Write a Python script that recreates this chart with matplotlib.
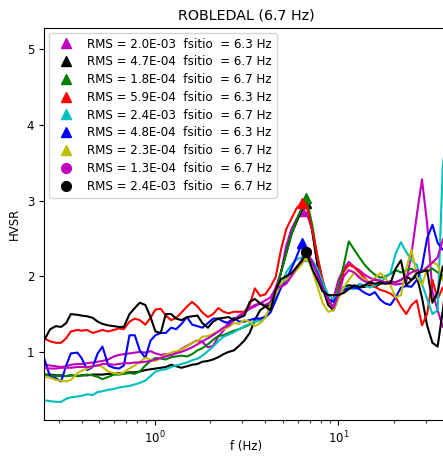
"""HVSR curves for ROBLEDAL station (several windows, peak markers)."""

import matplotlib
matplotlib.use("Agg")
import matplotlib.pyplot as plt

freq = [0.25, 0.27, 0.29, 0.31, 0.33, 0.35, 0.38, 0.40, 0.43, 0.46,
        0.49, 0.52, 0.56, 0.60, 0.64, 0.68, 0.73, 0.78, 0.83, 0.89,
        0.95, 1.01, 1.08, 1.15, 1.23, 1.31, 1.40, 1.50, 1.60, 1.71,
        1.82, 1.95, 2.08, 2.22, 2.37, 2.53, 2.70, 2.88, 3.08, 3.29,
        3.51, 3.75, 4.00, 4.27, 4.56, 4.87, 5.20, 5.55, 5.93, 6.33,
        6.70, 7.2, 7.7, 8.2, 8.8, 9.4, 10.0, 10.7, 11.4, 12.2,
        13.0, 13.9, 14.8, 15.8, 16.9, 18.0, 19.2, 20.5, 21.9, 23.4,
        25.0, 26.7, 28.5, 30.4, 32.5, 34.7, 37.0, 39.5]

hv_m1 = [0.83, 0.82, 0.81, 0.80, 0.81, 0.83, 0.84, 0.84, 0.85, 0.86,
         0.87, 0.88, 0.90, 0.94, 0.96, 0.97, 0.98, 0.99, 1.00, 0.99,
         1.01, 0.98, 0.96, 0.97, 0.96, 0.99, 1.04, 1.08, 1.12, 1.15,
         1.13, 1.06, 1.08, 1.20, 1.28, 1.40, 1.44, 1.46, 1.52, 1.58,
         1.62, 1.64, 1.62, 1.66, 1.85, 2.05, 2.40, 2.62, 2.76, 2.86,
         2.84, 2.62, 2.14, 1.84, 1.66, 1.70, 1.95, 2.10, 2.19, 2.12,
         2.08, 2.02, 1.98, 1.95, 1.94, 1.92, 1.90, 1.89, 1.90, 1.92,
         2.30, 2.80, 3.28, 2.70, 1.80, 1.55, 1.33, 1.40]

hv_k1 = [0.70, 0.70, 0.69, 0.69, 0.68, 0.69, 0.68, 0.69, 0.69, 0.70,
         0.70, 0.70, 0.71, 0.71, 0.72, 0.72, 0.73, 0.73, 0.74, 0.76,
         0.77, 0.78, 0.79, 0.80, 0.83, 0.81, 0.79, 0.81, 0.83, 0.84,
         0.87, 0.88, 0.90, 0.93, 0.97, 1.00, 1.02, 1.08, 1.15, 1.25,
         1.42, 1.55, 1.60, 1.62, 1.78, 2.05, 2.30, 2.55, 2.72, 2.88,
         2.97, 2.60, 2.15, 1.85, 1.62, 1.55, 1.72, 1.86, 1.88, 1.87,
         1.85, 1.86, 1.88, 1.86, 1.90, 1.91, 1.93, 1.92, 1.95, 2.00,
         1.95, 2.00, 1.72, 1.35, 1.12, 1.07, 1.55, 2.10]

hv_g = [0.70, 0.69, 0.68, 0.68, 0.68, 0.69, 0.68, 0.69, 0.70, 0.69,
        0.67, 0.64, 0.67, 0.70, 0.70, 0.71, 0.72, 0.71, 0.74, 0.82,
        0.88, 0.92, 0.91, 0.90, 0.93, 0.94, 0.95, 0.94, 0.97, 1.02,
        1.05, 1.10, 1.16, 1.21, 1.22, 1.25, 1.28, 1.30, 1.33, 1.36,
        1.40, 1.42, 1.47, 1.53, 1.78, 2.05, 2.30, 2.55, 2.75, 2.90,
        3.03, 2.68, 2.25, 1.95, 1.70, 1.58, 1.85, 2.15, 2.46, 2.35,
        2.25, 2.15, 2.08, 2.02, 1.98, 2.00, 2.03, 2.08, 2.05, 2.08,
        2.10, 2.05, 2.08, 2.06, 2.10, 2.05, 2.00, 2.05]

hv_r = [1.18, 1.14, 1.12, 1.12, 1.18, 1.27, 1.29, 1.28, 1.29, 1.25,
        1.27, 1.29, 1.27, 1.29, 1.31, 1.30, 1.40, 1.44, 1.42, 1.36,
        1.45, 1.56, 1.57, 1.48, 1.42, 1.45, 1.52, 1.60, 1.66, 1.60,
        1.52, 1.46, 1.50, 1.58, 1.53, 1.51, 1.53, 1.53, 1.53, 1.62,
        1.84, 1.74, 1.76, 1.86, 1.99, 2.35, 2.62, 2.76, 2.90, 2.97,
        2.95, 2.61, 2.26, 1.95, 1.68, 1.58, 1.76, 2.06, 2.15, 2.12,
        2.05, 1.98, 1.90, 1.86, 1.82, 1.80, 1.77, 1.72, 1.60, 1.50,
        1.62, 1.68, 1.35, 1.50, 1.95, 1.70, 1.85, 1.90]

hv_c = [0.36, 0.35, 0.34, 0.34, 0.38, 0.40, 0.41, 0.42, 0.44, 0.43,
        0.47, 0.48, 0.50, 0.51, 0.53, 0.54, 0.55, 0.57, 0.59, 0.62,
        0.68, 0.74, 0.76, 0.77, 0.80, 0.82, 0.84, 0.86, 0.89, 0.91,
        0.95, 1.01, 1.07, 1.14, 1.20, 1.23, 1.26, 1.30, 1.34, 1.37,
        1.40, 1.42, 1.45, 1.55, 1.70, 1.85, 2.05, 2.15, 2.22, 2.25,
        2.27, 2.21, 2.10, 1.92, 1.76, 1.69, 1.78, 1.85, 1.84, 1.83,
        1.90, 1.88, 1.85, 1.88, 1.92, 1.98, 2.04, 2.30, 2.45, 2.32,
        2.21, 2.15, 1.90, 1.70, 1.50, 1.55, 3.45, 4.00]

hv_b = [0.92, 0.67, 0.65, 0.61, 0.82, 0.98, 0.99, 0.92, 0.76, 0.80,
        0.98, 1.07, 0.82, 0.79, 0.78, 0.82, 1.22, 1.22, 1.02, 0.92,
        1.15, 1.22, 1.25, 1.25, 1.32, 1.30, 1.37, 1.46, 1.36, 1.34,
        1.32, 1.38, 1.44, 1.44, 1.40, 1.38, 1.45, 1.40, 1.40, 1.42,
        1.44, 1.44, 1.46, 1.52, 1.68, 1.85, 1.95, 2.10, 2.26, 2.44,
        2.34, 2.18, 2.04, 1.85, 1.70, 1.66, 1.75, 1.82, 1.84, 1.85,
        1.83, 1.78, 1.75, 1.79, 1.69, 1.64, 1.62, 1.72, 1.85, 1.87,
        1.86, 1.95, 2.12, 2.50, 2.68, 2.44, 2.35, 2.40]

hv_y = [0.67, 0.66, 0.63, 0.62, 0.61, 0.63, 0.72, 0.75, 0.78, 0.81,
        0.83, 0.80, 0.74, 0.72, 0.71, 0.73, 0.78, 0.82, 0.87, 0.92,
        0.90, 0.88, 0.92, 0.96, 0.99, 1.01, 1.03, 1.07, 1.12, 1.14,
        1.20, 1.21, 1.24, 1.27, 1.30, 1.33, 1.38, 1.37, 1.42, 1.40,
        1.34, 1.38, 1.45, 1.62, 1.76, 1.90, 1.96, 2.00, 2.08, 2.16,
        2.28, 2.08, 1.86, 1.65, 1.53, 1.55, 1.72, 1.85, 1.95, 2.05,
        2.00, 1.96, 1.92, 1.98, 2.04, 1.98, 1.88, 1.72, 1.75, 2.10,
        2.35, 2.00, 1.88, 2.10, 2.19, 2.15, 1.95, 1.85]

hv_m2 = [0.79, 0.78, 0.78, 0.79, 0.79, 0.79, 0.80, 0.80, 0.80, 0.81,
         0.82, 0.84, 0.84, 0.83, 0.84, 0.85, 0.85, 0.86, 0.86, 0.87,
         0.88, 0.90, 0.92, 0.94, 0.96, 0.98, 1.00, 1.03, 1.06, 1.10,
         1.14, 1.18, 1.22, 1.27, 1.32, 1.35, 1.42, 1.48, 1.52, 1.57,
         1.60, 1.64, 1.68, 1.72, 1.84, 1.86, 1.90, 2.00, 2.12, 2.22,
         2.32, 2.20, 2.02, 1.85, 1.70, 1.58, 1.76, 2.00, 2.08, 2.05,
         1.98, 1.93, 1.92, 1.96, 1.94, 1.92, 1.93, 1.92, 1.95, 2.00,
         2.05, 2.08, 2.06, 2.12, 2.18, 2.25, 2.48, 2.60]

hv_k2 = [1.15, 1.30, 1.34, 1.33, 1.38, 1.50, 1.49, 1.48, 1.47, 1.45,
         1.40, 1.37, 1.35, 1.34, 1.33, 1.33, 1.50, 1.58, 1.65, 1.62,
         1.46, 1.27, 1.25, 1.50, 1.50, 1.44, 1.42, 1.46, 1.47, 1.48,
         1.38, 1.32, 1.40, 1.44, 1.45, 1.46, 1.42, 1.45, 1.48, 1.66,
         1.70, 1.64, 1.60, 1.55, 1.82, 1.96, 2.00, 2.04, 2.12, 2.20,
         2.32, 2.10, 1.95, 1.80, 1.75, 1.75, 1.75, 1.78, 1.83, 1.88,
         1.86, 1.88, 1.92, 1.90, 1.92, 1.90, 1.91, 2.10, 2.21, 1.88,
         1.95, 2.04, 2.06, 2.08, 1.65, 1.79, 2.13, 2.10]

curves = [hv_m1, hv_k1, hv_g, hv_r, hv_c, hv_b, hv_y, hv_m2, hv_k2]
colors = ["m", "k", "g", "r", "c", "b", "y", "m", "k"]
markers = ["^", "^", "^", "^", "^", "^", "^", "o", "o"]
rms = ["2.0E-03", "4.7E-04", "1.8E-04", "5.9E-04", "2.4E-03",
       "4.8E-04", "2.3E-04", "1.3E-04", "2.4E-03"]
peak_f = [6.3, 6.7, 6.7, 6.3, 6.7, 6.3, 6.7, 6.7, 6.7]
peak_v = [2.86, 2.97, 3.03, 2.97, 2.27, 2.44, 2.28, 2.32, 2.32]

fig = plt.figure(figsize=(4.43, 4.58), dpi=100)
ax = fig.add_axes([44 / 443, 38 / 458, 405 / 443, 392 / 458])

for hv, c, mk, r, pf, pv in zip(curves, colors, markers, rms, peak_f, peak_v):
    ax.plot(freq, hv, color=c, lw=1.5)
    ax.plot([pf], [pv], mk, color=c, ms=7,
            label=f"RMS = {r}  fsitio  = {pf:.1f} Hz")

ax.set_xscale("log")
ax.set_xlim(0.25, 40)
ax.set_ylim(0.10, 5.28)
ax.set_yticks([1, 2, 3, 4, 5])
ax.tick_params(labelsize=8.5)
ax.set_xlabel("f (Hz)", fontsize=8.5)
ax.xaxis.set_label_coords(0.5, -0.052)
ax.set_ylabel("HVSR", fontsize=8.5)
ax.set_title("ROBLEDAL (6.7 Hz)", fontsize=10.3)
ax.legend(loc="upper left", fontsize=8.6, numpoints=1, labelspacing=0.4,
          borderaxespad=0.4)

fig.savefig("out.png", dpi=100)
